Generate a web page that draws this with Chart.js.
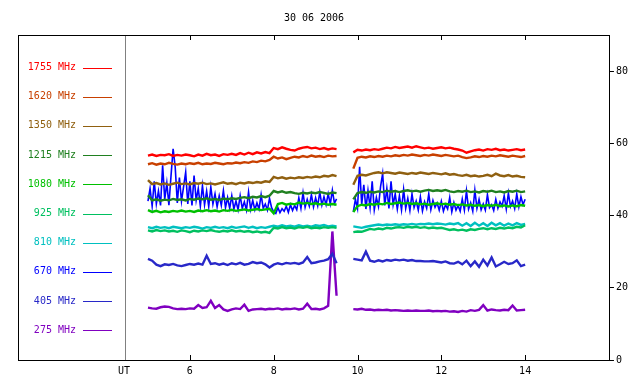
<!DOCTYPE html>
<html>
<head>
<meta charset="utf-8">
<script src="https://cdn.jsdelivr.net/npm/chart.js@4"></script>
<style>
  body { margin: 0; background: #fff; }
  #wrap { width: 640px; height: 384px; }
</style>
</head>
<body>
<div id="wrap"><canvas id="Canvas" width="640" height="384"></canvas></div>
<script>
const title = "30 06 2006";
const xTicks = [6, 8, 10, 12, 14];
const yTicks = [0, 20, 40, 60, 80];

// UT hours, null gap at 9.7
const hours = [
  5.0,5.1,5.2,5.3,5.4,5.5,5.6,5.7,5.8,5.9,
  6.0,6.1,6.2,6.3,6.4,6.5,6.6,6.7,6.8,6.9,
  7.0,7.1,7.2,7.3,7.4,7.5,7.6,7.7,7.8,7.9,
  8.0,8.1,8.2,8.3,8.4,8.5,8.6,8.7,8.8,8.9,
  9.0,9.1,9.2,9.3,9.4,9.5, 9.7,
  9.9,
  10.0,10.1,10.2,10.3,10.4,10.5,10.6,10.7,10.8,10.9,
  11.0,11.1,11.2,11.3,11.4,11.5,11.6,11.7,11.8,11.9,
  12.0,12.1,12.2,12.3,12.4,12.5,12.6,12.7,12.8,12.9,
  13.0,13.1,13.2,13.3,13.4,13.5,13.6,13.7,13.8,13.9,
  14.0
];
// finer hours for the noisy 670 MHz trace
const hoursFine = [
  5.00,5.05,5.10,5.15,5.20,5.25,5.30,5.35,5.40,5.45,
  5.50,5.55,5.60,5.65,5.70,5.75,5.80,5.85,5.90,5.95,
  6.00,6.05,6.10,6.15,6.20,6.25,6.30,6.35,6.40,6.45,
  6.50,6.55,6.60,6.65,6.70,6.75,6.80,6.85,6.90,6.95,
  7.00,7.05,7.10,7.15,7.20,7.25,7.30,7.35,7.40,7.45,
  7.50,7.55,7.60,7.65,7.70,7.75,7.80,7.85,7.90,7.95,
  8.00,8.05,8.10,8.15,8.20,8.25,8.30,8.35,8.40,8.45,
  8.50,8.55,8.60,8.65,8.70,8.75,8.80,8.85,8.90,8.95,
  9.00,9.05,9.10,9.15,9.20,9.25,9.30,9.35,9.40,9.45,
  9.50, 9.70,
  9.90,9.95,
  10.00,10.05,10.10,10.15,10.20,10.25,10.30,10.35,10.40,10.45,
  10.50,10.55,10.60,10.65,10.70,10.75,10.80,10.85,10.90,10.95,
  11.00,11.05,11.10,11.15,11.20,11.25,11.30,11.35,11.40,11.45,
  11.50,11.55,11.60,11.65,11.70,11.75,11.80,11.85,11.90,11.95,
  12.00,12.05,12.10,12.15,12.20,12.25,12.30,12.35,12.40,12.45,
  12.50,12.55,12.60,12.65,12.70,12.75,12.80,12.85,12.90,12.95,
  13.00,13.05,13.10,13.15,13.20,13.25,13.30,13.35,13.40,13.45,
  13.50,13.55,13.60,13.65,13.70,13.75,13.80,13.85,13.90,13.95,
  14.00
];

const f1755 = [
  56.6,56.9,56.5,56.8,56.7,57.0,56.5,56.8,56.6,56.9,
  56.7,56.4,56.9,56.6,57.1,56.7,56.9,56.5,57.0,56.8,
  57.1,56.8,57.3,56.9,57.4,57.0,57.5,57.2,57.6,57.3,
  58.7,58.4,58.9,58.5,58.2,58.0,58.5,58.8,59.0,58.6,
  58.8,58.4,58.7,58.3,58.6,58.4, null,
  57.5,
  58.2,58.0,58.3,58.1,58.4,58.2,58.5,58.8,58.6,59.0,
  58.7,58.9,59.1,58.8,59.2,58.9,58.6,58.8,58.5,58.7,
  58.9,58.6,58.8,58.5,58.3,58.0,57.4,57.8,58.1,58.3,
  58.0,58.4,58.2,58.5,58.1,58.3,58.0,58.2,58.4,58.1,
  58.3
];
const f1620 = [
  54.2,54.5,54.1,54.4,54.2,54.6,54.3,54.1,54.4,54.2,
  54.5,54.3,54.6,54.2,54.4,54.3,54.6,54.4,54.2,54.5,
  54.4,54.7,54.5,54.8,54.6,55.0,54.8,55.2,55.0,55.4,
  56.3,55.8,56.1,55.6,56.0,56.3,56.1,56.5,56.2,56.6,
  56.3,56.5,56.2,56.6,56.4,56.5, null,
  53.0,
  56.0,56.3,56.1,56.4,56.2,56.5,56.3,56.6,56.4,56.7,
  56.5,56.8,56.6,56.9,56.7,56.5,56.8,56.6,56.9,56.7,
  56.5,56.8,56.6,56.4,56.6,56.2,55.9,56.1,56.4,56.2,
  56.5,56.3,56.6,56.4,56.7,56.5,56.3,56.6,56.4,56.2,
  56.5
];
const f1350 = [
  49.8,48.7,49.0,48.6,48.9,48.5,48.8,49.1,48.7,48.9,
  48.6,49.0,48.8,49.1,48.7,48.9,48.6,48.9,49.2,48.8,
  49.0,48.7,49.1,48.9,49.2,49.0,49.3,49.1,49.5,49.3,
  50.7,50.3,50.6,50.2,50.5,50.3,50.6,50.4,50.7,50.5,
  50.8,50.6,51.0,50.8,51.2,50.9, null,
  48.5,
  51.0,51.3,51.1,51.5,51.8,52.0,51.7,52.0,51.8,51.6,
  51.9,51.7,51.5,51.8,51.6,51.9,51.7,51.5,51.8,51.6,
  51.4,51.7,51.3,51.5,51.2,51.0,51.3,50.9,51.1,50.8,
  51.0,51.3,50.9,51.6,51.1,50.9,51.2,50.8,51.0,50.7,
  50.6
];
const f1215 = [
  45.6,44.2,44.5,44.1,44.4,44.2,44.6,44.3,44.5,44.2,
  44.6,44.4,44.7,44.5,44.8,44.4,44.6,44.3,44.7,44.5,
  44.8,44.6,44.9,45.1,44.8,45.2,45.0,45.4,45.1,45.5,
  46.8,46.4,46.7,46.3,46.5,46.2,46.0,46.3,46.1,46.4,
  46.2,46.5,46.3,46.0,46.4,46.2, null,
  44.5,
  46.2,46.5,46.3,46.6,46.4,46.7,46.5,46.9,46.6,46.8,
  46.5,46.8,47.0,46.7,46.9,46.6,46.9,47.1,46.8,47.0,
  46.8,47.1,46.7,46.5,46.8,46.6,46.9,46.5,46.7,46.4,
  46.8,46.6,46.9,46.5,46.7,46.4,46.8,46.6,46.9,46.5,
  46.7
];
const f1080 = [
  41.5,41.0,41.3,40.9,41.2,41.0,41.3,41.1,41.4,41.1,
  41.3,41.0,41.4,41.2,41.5,41.2,41.4,41.1,41.5,41.3,
  41.6,41.3,41.5,41.7,41.4,41.6,41.8,41.5,41.7,41.9,
  40.6,43.2,43.5,43.0,43.3,43.1,43.6,43.3,43.5,43.2,
  43.4,43.1,43.3,43.0,43.2,43.0, null,
  41.0,
  42.6,43.0,42.8,43.2,43.0,43.3,43.1,43.5,43.2,43.4,
  43.6,43.3,43.5,43.2,43.4,43.1,43.3,43.0,43.2,43.4,
  43.1,43.3,43.0,43.2,42.9,43.1,42.8,43.0,42.7,42.9,
  42.6,42.9,42.7,43.0,42.6,42.8,42.5,42.8,42.6,42.9,
  42.7
];
const f925 = [
  35.9,35.6,36.0,35.7,35.9,35.6,35.8,35.5,35.9,35.7,
  35.4,35.8,35.6,35.9,35.7,36.0,35.7,35.5,35.8,35.6,
  35.9,35.6,35.8,35.5,35.7,35.4,35.6,35.3,35.5,35.2,
  36.6,36.4,36.8,36.5,36.7,36.4,36.8,36.6,36.9,36.5,
  36.7,36.5,36.8,36.6,36.8,36.6, null,
  35.4,
  35.6,35.5,35.9,36.3,36.1,36.4,36.2,36.6,36.4,36.7,
  36.8,36.6,36.9,36.7,36.9,36.6,36.8,36.5,36.7,36.5,
  36.6,36.3,36.0,36.2,35.9,36.1,35.8,36.2,36.0,36.3,
  36.5,36.2,36.5,36.3,36.6,36.4,36.7,36.5,36.9,36.7,
  37.3
];
const f810 = [
  36.8,36.5,36.9,36.6,36.8,36.5,36.9,36.7,36.5,36.8,
  36.6,36.9,36.7,36.4,36.8,36.6,36.9,36.6,36.8,36.5,
  36.9,36.6,36.8,37.0,36.6,36.9,36.5,36.8,36.6,36.9,
  37.2,36.9,37.3,37.0,37.2,36.9,37.3,37.0,37.2,36.9,
  37.3,37.1,37.4,37.0,37.2,37.0, null,
  37.0,
  36.8,36.6,36.9,37.1,37.3,37.5,37.3,37.5,37.4,37.6,
  37.4,37.6,37.5,37.7,37.5,37.7,37.6,37.8,37.6,37.8,
  37.7,37.5,37.8,37.6,37.9,37.2,37.9,37.1,38.0,37.2,
  37.9,37.1,38.0,37.3,37.9,37.2,37.8,37.3,37.9,37.4,
  37.7
];
// 670 MHz on hoursFine
const f670 = [
  44.0,47.5,42.6,49.5,43.2,46.8,42.8,53.9,44.5,49.0,
  42.9,51.0,58.5,53.4,43.5,50.5,44.0,48.0,52.0,43.2,
  49.5,42.8,51.1,44.2,47.5,42.6,48.3,43.0,46.8,42.5,
  47.9,43.2,46.0,42.4,45.5,42.8,46.9,42.2,45.0,42.0,
  45.5,41.8,44.0,41.6,45.5,42.0,43.8,41.5,46.5,41.7,
  44.2,41.6,43.5,41.8,45.8,42.0,43.2,41.5,44.8,42.2,
  41.0,40.6,42.2,40.8,41.9,41.2,42.6,40.9,43.0,41.4,
  42.8,41.6,44.9,42.0,46.3,42.3,44.5,42.6,45.8,42.4,
  44.9,42.7,46.5,42.9,45.2,43.0,46.0,43.2,47.0,43.4,
  44.6, null,
  41.0,44.5,
  42.0,53.5,43.0,48.5,41.8,46.9,42.2,49.5,41.6,45.0,
  42.5,48.0,51.6,42.8,47.5,42.0,49.5,43.0,46.0,41.8,
  45.5,41.6,47.2,42.0,44.8,41.4,46.0,42.2,44.0,41.5,
  45.2,41.3,43.8,42.0,46.0,41.6,44.2,42.3,43.5,41.5,
  44.0,41.2,43.0,41.8,45.0,41.0,43.6,41.5,42.8,41.2,
  44.6,41.5,46.8,41.8,43.5,41.2,47.0,42.0,44.5,41.6,
  43.2,41.5,45.8,42.2,43.0,41.4,44.5,42.0,43.8,42.6,
  45.5,41.8,46.2,42.5,44.0,41.9,46.0,42.4,45.2,43.0,
  44.5
];
const f405 = [
  28.0,27.5,26.4,26.0,26.5,26.3,26.6,26.2,26.0,26.3,
  26.6,26.4,26.7,26.4,28.9,26.6,26.8,26.4,26.7,26.3,
  26.8,26.5,26.9,26.4,26.6,27.1,26.8,27.0,26.5,25.6,
  26.4,26.8,26.5,26.9,26.7,26.9,26.6,27.0,28.5,26.8,
  27.0,27.3,27.5,27.9,29.4,26.8, null,
  28.0,
  27.8,27.6,30.0,27.5,27.2,27.6,27.3,27.7,27.5,27.8,
  27.6,27.8,27.5,27.7,27.4,27.4,27.3,27.3,27.4,27.2,
  27.0,27.3,26.8,26.7,27.2,26.5,27.5,26.0,27.3,25.8,
  27.8,26.2,28.4,25.9,26.5,27.2,26.6,26.8,27.6,26.0,
  26.4
];
const f275 = [
  14.5,14.3,14.2,14.6,14.8,14.7,14.3,14.1,14.2,14.1,
  14.3,14.2,15.2,14.4,14.6,16.4,14.4,15.2,14.0,13.6,
  14.0,14.3,14.1,15.3,13.6,14.0,14.1,14.2,14.0,14.2,
  14.1,14.3,14.0,14.2,14.1,14.3,14.0,14.2,15.6,14.1,
  14.2,14.0,14.3,15.0,35.6,17.8, null,
  14.1,
  14.0,14.2,13.9,14.0,13.8,13.9,13.8,13.9,13.7,13.8,
  13.7,13.6,13.7,13.6,13.7,13.6,13.6,13.7,13.5,13.6,
  13.5,13.6,13.4,13.5,13.3,13.6,13.4,13.8,13.6,13.9,
  15.2,13.7,14.0,13.8,13.7,13.9,13.8,15.1,13.7,13.8,
  13.9
];

const labels = ["1755 MHz","1620 MHz","1350 MHz","1215 MHz","1080 MHz","925 MHz","810 MHz","670 MHz","405 MHz","275 MHz"];
const series = [f1755, f1620, f1350, f1215, f1080, f925, f810, f670, f405, f275];
const colors = ["#ff0000","#c84000","#906010","#208020","#00c000","#00c060","#00c0c0","#0000ff","#2828c8","#8000c0"];

const font = { family: "DejaVu Sans Mono", size: 10 };

const framePlugin = {
  id: "frame",
  afterDraw(chart) {
    const c = chart.ctx, a = chart.chartArea;
    const xs = chart.scales.x;
    c.save();
    c.lineWidth = 1;
    // divider between legend panel and plot
    c.strokeStyle = "#808080";
    c.beginPath();
    c.moveTo(Math.round(a.left) + 0.5, Math.round(a.top));
    c.lineTo(Math.round(a.left) + 0.5, Math.round(a.bottom));
    c.stroke();
    // outer box
    c.strokeStyle = "#000";
    c.strokeRect(18.5, Math.round(a.top) + 0.5, Math.round(a.right) - 18, Math.round(a.bottom - a.top));
    // inward x ticks top and bottom
    c.beginPath();
    xTicks.forEach(v => {
      const px = Math.round(xs.getPixelForValue(v)) + 0.5;
      c.moveTo(px, a.top); c.lineTo(px, a.top + 5);
      c.moveTo(px, a.bottom); c.lineTo(px, a.bottom - 5);
    });
    c.stroke();
    // title and UT label
    c.fillStyle = "#000";
    c.font = "10px 'DejaVu Sans Mono'";
    c.textAlign = "center";
    c.textBaseline = "middle";
    c.fillText(title, 314, 18);
    c.fillText("UT", a.left - 1, 371);
    // legend
    c.textAlign = "right";
    labels.forEach((t, i) => {
      const y = 67.5 + i * 29.2;
      c.fillStyle = colors[i];
      c.fillText(t, 76, y);
      c.strokeStyle = colors[i];
      c.beginPath();
      c.moveTo(83, Math.round(y) + 0.5);
      c.lineTo(112, Math.round(y) + 0.5);
      c.stroke();
    });
    c.restore();
  }
};

const ctx = document.getElementById("Canvas").getContext("2d");
const myChart = new Chart(ctx, {
  type: "line",
  data: {
    datasets: series.map((vals, i) => {
      const xs = i === 7 ? hoursFine : hours;
      return {
        label: labels[i],
        data: xs.map((h, j) => ({ x: h, y: vals[j] })),
        borderColor: colors[i],
        borderWidth: i === 7 ? 1.6 : 2.4,
        pointRadius: 0,
        tension: 0,
        spanGaps: false,
        order: i === 7 ? 1 : 0
      };
    })
  },
  options: {
    responsive: false,
    animation: false,
    layout: { padding: { left: 125, right: 10, top: 35, bottom: 2 } },
    plugins: { legend: { display: false }, tooltip: { enabled: false }, title: { display: false } },
    scales: {
      x: {
        type: "linear", min: 4.452, max: 16,
        afterBuildTicks: s => { s.ticks = xTicks.map(v => ({ value: v })); },
        grid: { display: false, drawTicks: false },
        border: { display: false },
        ticks: { font: font, color: "#000", padding: 5, maxRotation: 0 }
      },
      y: {
        position: "right", min: 0, max: 90,
        afterBuildTicks: s => { s.ticks = yTicks.map(v => ({ value: v })); },
        grid: { drawOnChartArea: false, tickLength: 5, color: "#000" },
        border: { display: false },
        ticks: { font: font, color: "#000", padding: 2 }
      }
    }
  },
  plugins: [framePlugin]
});
</script>
</body>
</html>
